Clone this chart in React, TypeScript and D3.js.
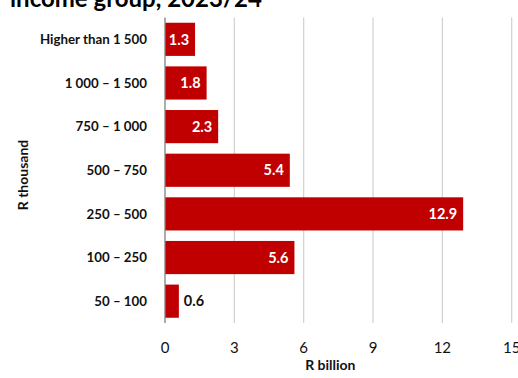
import React from "react";
import * as d3 from "d3";

const categories = ["Higher than 1 500", "1 000 – 1 500", "750 – 1 000", "500 – 750", "250 – 500", "100 – 250", "50 – 100"];
const values = [1.3, 1.8, 2.3, 5.4, 12.9, 5.6, 0.6];
const xTicks = [0, 3, 6, 9, 12, 15];

const W = 518, H = 378;
const FONT = "Lato, 'Open Sans', sans-serif";

export default function App() {
  const x = d3.scaleLinear().domain([0, 15]).range([165, 511.7]);
  const y = d3.scaleBand().domain(categories).range([17.5, 323]).paddingInner(0.24).paddingOuter(0.12);
  const bw = y.bandwidth();
  return (
    <svg width={W} height={H} style={{ position: "absolute", left: 0, top: 0, background: "#fff" }} fontFamily={FONT}>
      <text x={10} y={7} fontSize={24} fontWeight={700} fill="#000">income group, 2023/24</text>
      {xTicks.slice(1).map(t => (
        <line key={t} x1={x(t)} x2={x(t)} y1={17.5} y2={323} stroke="#d0d0d0" strokeWidth={1.2} />
      ))}
      {categories.map((c, i) => {
        const v = values[i];
        const yy = y(c)!;
        const inside = x(v) - x(0) > 30;
        return (
          <g key={c}>
            <rect x={x(0)} y={yy} width={x(v) - x(0)} height={bw} fill="#c00000" />
            <text x={147} y={yy + bw / 2} dy="0.35em" textAnchor="end" fontSize={13.3} fontWeight={700} fill="#111">{c}</text>
            <text
              x={inside ? x(v) - 6 : x(v) + 5}
              y={yy + bw / 2}
              dy="0.36em"
              textAnchor={inside ? "end" : "start"}
              fontSize={14.5}
              fontWeight={700}
              fill={inside ? "#fff" : "#111"}
            >{v.toFixed(1)}</text>
          </g>
        );
      })}
      <line x1={x(0)} x2={x(0)} y1={17.5} y2={323} stroke="#808080" strokeWidth={1.3} />
      {xTicks.map(t => (
        <text key={t} x={x(t)} y={353} textAnchor="middle" fontSize={15} fill="#111">{t}</text>
      ))}
      <text x={(x(0) + x(15)) / 2 - 8} y={370} textAnchor="middle" fontSize={14} fontWeight={700} fill="#111">R billion</text>
      <text transform={`translate(28,175) rotate(-90)`} textAnchor="middle" fontSize={14} fontWeight={700} fill="#111">R thousand</text>
    </svg>
  );
}
